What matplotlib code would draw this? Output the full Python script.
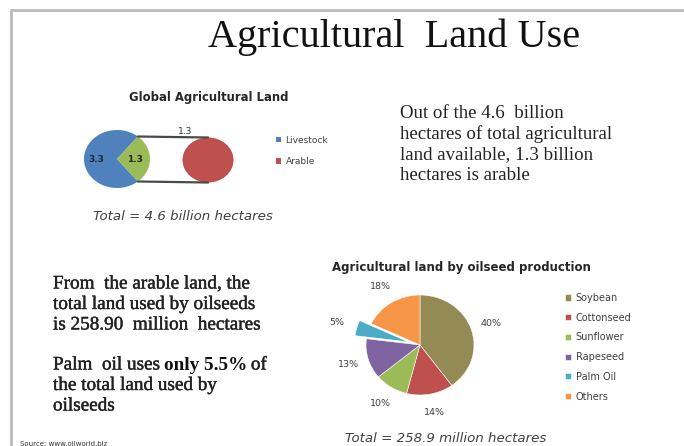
import matplotlib.pyplot as plt
from matplotlib.patches import ConnectionPatch
import matplotlib.patheffects as pe
import numpy as np

# Global agricultural land, billion hectares
land_labels = ['Livestock', 'Arable']
land_values = [3.3, 1.3]
land_total = 4.6

# Land used by each oilseed crop, % of the oilseed total (million hectares)
oil_labels = ['Soybean', 'Cottonseed', 'Sunflower', 'Rapeseed', 'Palm Oil', 'Others']
oil_share = [40, 14, 10, 13, 5, 18]
oil_total = 258.9

land_colors = ['#4F81BD', '#9BBB59', '#C0504D']
oil_colors = ['#948A54', '#C0504D', '#9BBB59', '#8064A2', '#4BACC6', '#F79646']

SERIF = 'Liberation Serif'
SANS = 'DejaVu Sans'

W, H = 684, 446
fig = plt.figure(figsize=(W / 100, H / 100), dpi=100)
bg = fig.add_axes([0, 0, 1, 1])
bg.set_xlim(0, W)
bg.set_ylim(H, 0)
bg.axis('off')


def box(cx, cy, rx, ry):
    # axes rectangle from a centre and half sizes in pixels
    return [(cx - rx) / W, 1 - (cy + ry) / H, 2 * rx / W, 2 * ry / H]


# slide frame
bg.plot([10, W], [9.5, 9.5], color='#bcbcbc', lw=2, solid_capstyle='butt')
bg.plot([11, 11], [9.5, H], color='#bcbcbc', lw=2, solid_capstyle='butt')

bg.text(394, 37, 'Agricultural  Land Use', family=SERIF, fontsize=29,
        ha='center', va='center', color='#111111')

# ---- pie of pie: global agricultural land ----
bg.text(209, 97, 'Global Agricultural Land', family=SANS, weight='bold',
        fontsize=8.4, ha='center', va='center', color='#262626')

ax1 = fig.add_axes(box(117, 159, 33, 29))
start = 360 * land_values[1] / land_total / 2
w1, _ = ax1.pie(land_values, colors=land_colors[:2], startangle=start)
ax1.set_aspect('auto')
ax1.set_xlim(-1, 1)
ax1.set_ylim(-1, 1)
ax1.text(-0.64, 0, f'{land_values[0]:.1f}', ha='center', va='center',
         family=SANS, weight='bold', fontsize=6.5, color='#1f2a3a')
ax1.text(0.55, 0, f'{land_values[1]:.1f}', ha='center', va='center',
         family=SANS, weight='bold', fontsize=6.5, color='#1f2a1a')

ax2 = fig.add_axes(box(208, 160, 25.5, 22.5))
w2, _ = ax2.pie([land_values[1]], colors=[land_colors[2]])
ax2.set_aspect('auto')
ax2.set_xlim(-1, 1)
ax2.set_ylim(-1, 1)

# connector lines from the green wedge to the secondary pie
g = w1[1]
for th, yb in [(g.theta2, 1), (g.theta1, -1)]:
    t = np.radians(th)
    con = ConnectionPatch(xyA=(np.cos(t), np.sin(t)), coordsA=ax1.transData,
                          xyB=(0, yb), coordsB=ax2.transData,
                          color='#4a4a4a', lw=1.6)
    fig.add_artist(con)
bg.text(185, 131, f'{land_values[1]:.1f}', family=SANS, fontsize=6.5,
        ha='center', va='center', color='#333333')

fig.legend([w1[0], w2[0]], land_labels, loc='upper left',
           bbox_to_anchor=(272 / W, 1 - 132 / H), frameon=False,
           prop={'family': SANS, 'size': 6.5}, handlelength=0.6,
           handleheight=0.6, handletextpad=0.5, labelspacing=1.4,
           borderaxespad=0, labelcolor='#404040')

bg.text(183, 216, f'Total = {land_total} billion hectares', family=SANS,
        style='italic', fontsize=9.6, ha='center', va='center', color='#404040')

# ---- right paragraph ----
right_lines = ['Out of the 4.6  billion', 'hectares of total agricultural',
               'land available, 1.3 billion', 'hectares is arable']
for i, s in enumerate(right_lines):
    bg.text(400, 113 + i * 21, s, family=SERIF, fontsize=13.6,
            ha='left', va='center', color='#222222')

# ---- left paragraphs ----
thick = [pe.withStroke(linewidth=0.3, foreground='#222222')]
txt = dict(family=SERIF, fontsize=13.8, ha='left', va='center',
           color='#222222', path_effects=thick)
left_lines = ['From  the arable land, the', 'total land used by oilseeds',
              'is 258.90  million  hectares']
for i, s in enumerate(left_lines):
    bg.text(53, 284 + i * 20.5, s, **txt)

palm_lines = ['the total land used by', 'oilseeds']
t0 = bg.text(53, 365, 'Palm  oil uses', **txt)
for i, s in enumerate(palm_lines):
    bg.text(53, 385.5 + i * 20.5, s, **txt)

fig.canvas.draw()
r = fig.canvas.get_renderer()
inv = bg.transData.inverted()
x_end = inv.transform(t0.get_window_extent(r).get_points())[1, 0]
t1 = bg.text(x_end + 4, 365, 'only 5.5%', family=SERIF, fontsize=13.8,
             weight='bold', ha='left', va='center', color='#111111')
fig.canvas.draw()
x_end = inv.transform(t1.get_window_extent(r).get_points())[1, 0]
bg.text(x_end + 4, 365, 'of', **txt)

# ---- oilseed pie ----
bg.text(461, 267, 'Agricultural land by oilseed production', family=SANS,
        weight='bold', fontsize=8.5, ha='center', va='center', color='#262626')

k = 1.6
ax3 = fig.add_axes(box(420, 345, 54 * k, 50 * k))
explode = [0.22 if s == 'Palm Oil' else 0 for s in oil_labels]
w3, _, pct = ax3.pie(oil_share, colors=oil_colors, startangle=90,
                     counterclock=False, explode=explode, autopct='%d%%',
                     pctdistance=1.38,
                     wedgeprops=dict(edgecolor='white', linewidth=0.4),
                     textprops=dict(family=SANS, fontsize=6.8, color='#404040'))
ax3.set_aspect('auto')
ax3.set_xlim(-k, k)
ax3.set_ylim(-k, k)

fig.legend(w3, oil_labels, loc='upper left',
           bbox_to_anchor=(561 / W, 1 - 289 / H), frameon=False,
           prop={'family': SANS, 'size': 7}, handlelength=0.6,
           handleheight=0.6, handletextpad=0.5, labelspacing=1.0,
           borderaxespad=0, labelcolor='#404040')

bg.text(446, 439, f'Total = {oil_total} million hectares', family=SANS,
        style='italic', fontsize=9.6, ha='center', va='center', color='#404040')

bg.text(20, 444, 'Source: www.oilworld.biz', family=SANS, fontsize=5,
        ha='left', va='center', color='#333333')

fig.savefig('out.png', dpi=100)
